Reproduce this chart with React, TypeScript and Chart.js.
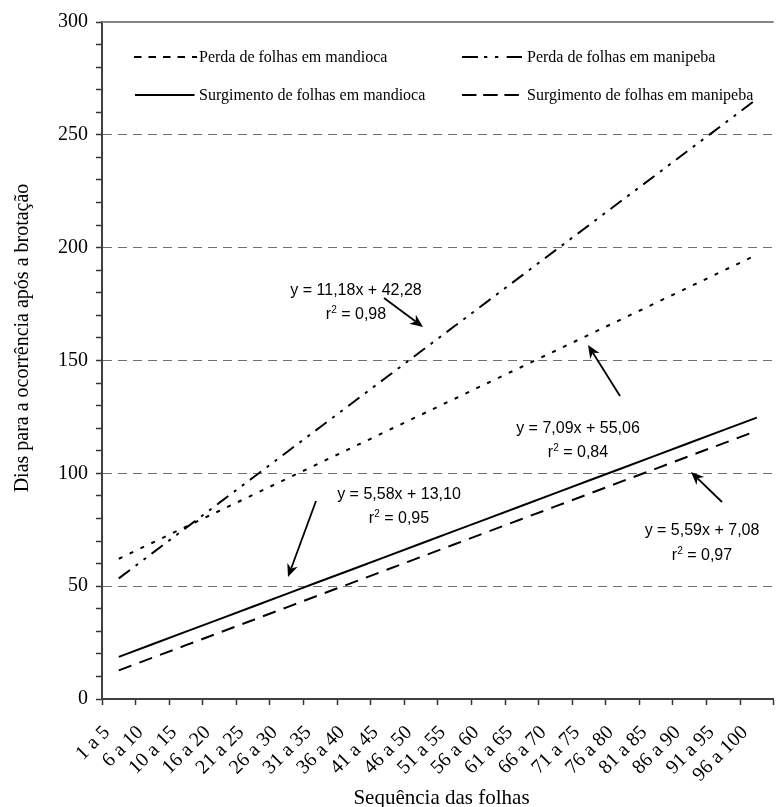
import React, { useEffect, useRef } from 'react';
import { Chart, registerables } from 'chart.js';

Chart.register(...registerables);

// ---------- data ----------
const categories = [
  '1 a 5', '6 a 10', '10 a 15', '16 a 20', '21 a 25', '26 a 30', '31 a 35', '36 a 40',
  '41 a 45', '46 a 50', '51 a 55', '56 a 60', '61 a 65', '66 a 70', '71 a 75', '76 a 80',
  '81 a 85', '86 a 90', '91 a 95', '96 a 100',
];

const perdaMandioca = [
  62.15, 69.24, 76.33, 83.42, 90.51, 97.6, 104.69, 111.78, 118.87, 125.96,
  133.05, 140.14, 147.23, 154.32, 161.41, 168.5, 175.59, 182.68, 189.77, 196.86,
];
const perdaManipeba = [
  53.46, 64.64, 75.82, 87.0, 98.18, 109.36, 120.54, 131.72, 142.9, 154.08,
  165.26, 176.44, 187.62, 198.8, 209.98, 221.16, 232.34, 243.52, 254.7, 265.88,
];
const surgimentoMandioca = [
  18.68, 24.26, 29.84, 35.42, 41.0, 46.58, 52.16, 57.74, 63.32, 68.9,
  74.48, 80.06, 85.64, 91.22, 96.8, 102.38, 107.96, 113.54, 119.12, 124.7,
];
const surgimentoManipeba = [
  12.67, 18.26, 23.85, 29.44, 35.03, 40.62, 46.21, 51.8, 57.39, 62.98,
  68.57, 74.16, 79.75, 85.34, 90.93, 96.52, 102.11, 107.7, 113.29, 118.88,
];

const seriesLabels = [
  'Perda de folhas em mandioca',
  'Perda de folhas em manipeba',
  'Surgimento de folhas em mandioca',
  'Surgimento de folhas em manipeba',
];

const equations = ['y = 11,18x + 42,28', 'y = 5,58x + 13,10', 'y = 7,09x + 55,06', 'y = 5,59x + 7,08'];
const r2Values = ['0,98', '0,95', '0,84', '0,97'];

const xTitle = 'Sequência das folhas';
const yTitle = 'Dias para a ocorrência após a brotação';

// ---------- layout / style (not data) ----------
const SERIF = "'Liberation Serif', 'Times New Roman', serif";
const SANS = "'Liberation Sans', Arial, sans-serif";

const lineDashes = [[4, 8], [14, 7, 3, 7, 3, 7], [], [13.5, 8.5]];
const legendDashes = [[7.5, 7], [16, 6, 3.3, 7.7, 3.3, 8.4], [], [14.5, 6.7]];
const legendLayout = [
  { x1: 134, x2: 197, y: 57 },
  { x1: 462, x2: 522, y: 57 },
  { x1: 135, x2: 194.5, y: 95 },
  { x1: 462, x2: 521, y: 95 },
];
const legendTextX = [199, 527, 199, 527];

const annLayout = [
  { cx: 356, b1: 295, b2: 319, ax1: 384, ay1: 298, ax2: 423, ay2: 327 },
  { cx: 399, b1: 498.5, b2: 522.5, ax1: 316, ay1: 501, ax2: 288, ay2: 577 },
  { cx: 578, b1: 432.5, b2: 456.5, ax1: 620, ay1: 396, ax2: 588, ay2: 345 },
  { cx: 702, b1: 535, b2: 560, ax1: 722, ay1: 502, ax2: 691, ay2: 472 },
];

function drawArrow(ctx: CanvasRenderingContext2D, x1: number, y1: number, x2: number, y2: number) {
  const ang = Math.atan2(y2 - y1, x2 - x1);
  const hl = 13;
  const hw = 5.5;
  const c = Math.cos(ang);
  const s = Math.sin(ang);
  const bx = x2 - hl * c;
  const by = y2 - hl * s;
  const nx = x2 - hl * 0.7 * c;
  const ny = y2 - hl * 0.7 * s;
  ctx.setLineDash([]);
  ctx.strokeStyle = '#000';
  ctx.fillStyle = '#000';
  ctx.lineWidth = 1.8;
  ctx.beginPath();
  ctx.moveTo(x1, y1);
  ctx.lineTo(nx, ny);
  ctx.stroke();
  ctx.beginPath();
  ctx.moveTo(x2, y2);
  ctx.lineTo(bx - hw * s, by + hw * c);
  ctx.lineTo(nx, ny);
  ctx.lineTo(bx + hw * s, by - hw * c);
  ctx.closePath();
  ctx.fill();
}

const decor = {
  id: 'decor',
  afterDraw(chart: any) {
    const ctx: CanvasRenderingContext2D = chart.ctx;
    const { left, right, top } = chart.chartArea;
    ctx.save();

    // top border of plot area
    ctx.setLineDash([]);
    ctx.strokeStyle = '#858585';
    ctx.lineWidth = 2;
    ctx.beginPath();
    ctx.moveTo(left, top);
    ctx.lineTo(right, top);
    ctx.stroke();

    // legend
    ctx.font = `16px ${SERIF}`;
    ctx.textBaseline = 'middle';
    ctx.textAlign = 'left';
    seriesLabels.forEach((lab, i) => {
      const L = legendLayout[i];
      ctx.strokeStyle = '#000';
      ctx.lineWidth = 2;
      ctx.setLineDash(legendDashes[i]);
      ctx.beginPath();
      ctx.moveTo(L.x1, L.y);
      ctx.lineTo(L.x2, L.y);
      ctx.stroke();
      ctx.setLineDash([]);
      ctx.fillStyle = '#000';
      ctx.fillText(lab, legendTextX[i], L.y + 1);
    });

    // annotations
    equations.forEach((eq, i) => {
      const A = annLayout[i];
      ctx.fillStyle = '#000';
      ctx.textBaseline = 'alphabetic';
      ctx.font = `16px ${SANS}`;
      ctx.textAlign = 'center';
      ctx.fillText(eq, A.cx, A.b1);
      ctx.textAlign = 'left';
      const rest = ' = ' + r2Values[i];
      ctx.font = `16px ${SANS}`;
      const wr = ctx.measureText('r').width;
      const wrest = ctx.measureText(rest).width;
      ctx.font = `10px ${SANS}`;
      const w2 = ctx.measureText('2').width;
      const total = wr + w2 + wrest;
      let x = A.cx - total / 2;
      ctx.font = `16px ${SANS}`;
      ctx.fillText('r', x, A.b2);
      x += wr;
      ctx.font = `10px ${SANS}`;
      ctx.fillText('2', x, A.b2 - 6);
      x += w2;
      ctx.font = `16px ${SANS}`;
      ctx.fillText(rest, x, A.b2);
      drawArrow(ctx, A.ax1, A.ay1, A.ax2, A.ay2);
    });

    // axis titles
    ctx.fillStyle = '#000';
    ctx.font = `21px ${SERIF}`;
    ctx.textAlign = 'center';
    ctx.textBaseline = 'alphabetic';
    ctx.fillText(xTitle, 441.5, 803.5);

    ctx.save();
    ctx.translate(28.3, 338);
    ctx.rotate(-Math.PI / 2);
    ctx.font = `20px ${SERIF}`;
    ctx.textAlign = 'center';
    ctx.textBaseline = 'alphabetic';
    ctx.fillText(yTitle, 0, 0);
    ctx.restore();

    ctx.restore();
  },
};

export default function App() {
  const ref = useRef<HTMLCanvasElement>(null);

  useEffect(() => {
    const canvas = ref.current;
    if (!canvas) return;
    const series = [perdaMandioca, perdaManipeba, surgimentoMandioca, surgimentoManipeba];
    const chart = new Chart(canvas, {
      type: 'line',
      data: {
        labels: categories,
        datasets: series.map((d, i) => ({
          label: seriesLabels[i],
          data: d,
          borderColor: '#000',
          backgroundColor: '#000',
          borderWidth: 2,
          borderDash: lineDashes[i],
          borderCapStyle: 'butt',
          pointRadius: 0,
          pointHoverRadius: 0,
          fill: false,
          tension: 0,
        })),
      },
      options: {
        responsive: false,
        animation: false,
        devicePixelRatio: 1,
        events: [],
        layout: { padding: { left: 0, top: 22, right: 6, bottom: 0 } },
        plugins: {
          legend: { display: false },
          tooltip: { enabled: false },
          title: { display: false },
        },
        scales: {
          x: {
            type: 'category',
            offset: true,
            afterFit: (scale: any) => {
              scale.height = 108;
            },
            grid: {
              offset: true,
              drawOnChartArea: false,
              drawTicks: true,
              tickLength: 6,
              tickColor: '#333',
              tickWidth: 1.5,
            },
            border: { display: true, color: '#404040', width: 2 },
            ticks: {
              autoSkip: false,
              maxRotation: 45,
              minRotation: 45,
              labelOffset: -12,
              padding: 16,
              color: '#000',
              font: { family: SERIF, size: 20 },
            },
          },
          y: {
            min: 0,
            max: 300,
            afterFit: (scale: any) => {
              scale.width = 102;
            },
            grid: {
              drawOnChartArea: true,
              drawTicks: true,
              tickLength: 6,
              tickColor: '#333',
              tickWidth: 1.5,
              lineWidth: 1,
              color: (ctx: any) => {
                const v = ctx.tick ? ctx.tick.value : 0;
                return v % 50 === 0 && v !== 0 && v !== 300 ? '#707070' : 'rgba(0,0,0,0)';
              },
            },
            border: { display: true, color: '#404040', width: 2, dash: [9, 6] },
            ticks: {
              stepSize: 10,
              autoSkip: false,
              padding: 8,
              color: '#000',
              font: { family: SERIF, size: 20 },
              callback: (v: any) => (Number(v) % 50 === 0 ? String(v) : ''),
            },
          },
        },
      },
      plugins: [decor],
    } as any);
    return () => chart.destroy();
  }, []);

  return (
    <div
      style={{
        position: 'absolute',
        left: 0,
        top: 0,
        width: 778,
        height: 807,
        overflow: 'hidden',
        background: '#fff',
      }}
    >
      <canvas ref={ref} width={790} height={807} style={{ display: 'block', width: 790, height: 807 }} />
    </div>
  );
}
